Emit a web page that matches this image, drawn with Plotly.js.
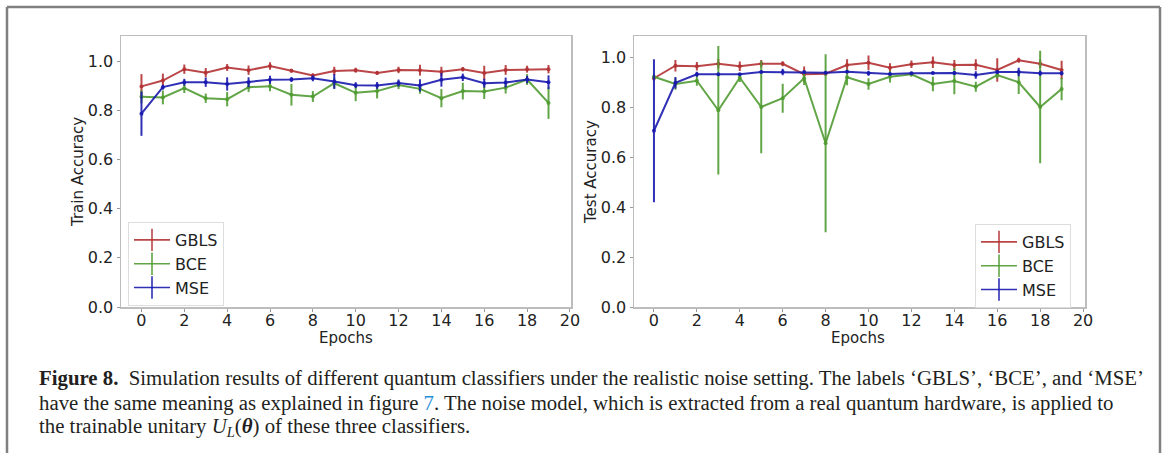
<!DOCTYPE html>
<html>
<head>
<meta charset="utf-8">
<script src="https://cdn.plot.ly/plotly-3.0.1.min.js"></script>
<style>
html,body{margin:0;padding:0;background:#fff;}
#chart{width:1165px;height:453px;}
</style>
</head>
<body>
<div id="chart"></div>
<script>
// ---- data ----
const epochs = [0,1,2,3,4,5,6,7,8,9,10,11,12,13,14,15,16,17,18,19];
const seriesNames = ["GBLS","BCE","MSE"];

const trainGBLS    = [0.897,0.921,0.967,0.953,0.974,0.963,0.980,0.961,0.941,0.960,0.963,0.952,0.964,0.963,0.957,0.967,0.952,0.964,0.967,0.967];
const trainGBLSerr = [0.050,0.028,0.019,0.019,0.014,0.019,0.015,0.008,0.009,0.017,0.010,0.008,0.013,0.022,0.020,0.009,0.029,0.020,0.014,0.017];
const trainBCE     = [0.855,0.852,0.890,0.849,0.845,0.894,0.898,0.863,0.856,0.910,0.871,0.878,0.903,0.887,0.849,0.878,0.876,0.892,0.925,0.830];
const trainBCEerr  = [0.027,0.028,0.020,0.019,0.029,0.020,0.021,0.044,0.022,0.022,0.034,0.030,0.017,0.020,0.037,0.034,0.030,0.024,0.022,0.065];
const trainMSE     = [0.786,0.894,0.914,0.914,0.907,0.914,0.924,0.925,0.930,0.917,0.902,0.901,0.911,0.901,0.924,0.934,0.910,0.913,0.925,0.914];
const trainMSEerr  = [0.090,0.010,0.014,0.019,0.027,0.020,0.016,0.010,0.012,0.030,0.012,0.014,0.014,0.025,0.028,0.015,0.018,0.020,0.015,0.028];

const testGBLS     = [0.915,0.965,0.963,0.973,0.963,0.973,0.973,0.931,0.933,0.968,0.977,0.957,0.971,0.979,0.968,0.969,0.948,0.987,0.973,0.948];
const testGBLSerr  = [0.010,0.023,0.017,0.019,0.019,0.015,0.010,0.031,0.007,0.023,0.029,0.018,0.015,0.023,0.020,0.022,0.047,0.010,0.017,0.037];
const testBCE      = [0.921,0.892,0.905,0.787,0.917,0.800,0.835,0.915,0.655,0.919,0.892,0.921,0.931,0.892,0.904,0.881,0.928,0.899,0.800,0.872];
const testBCEerr   = [0.010,0.023,0.020,0.257,0.017,0.185,0.058,0.027,0.356,0.032,0.023,0.023,0.010,0.029,0.053,0.020,0.013,0.047,0.225,0.045];
const testMSE      = [0.705,0.897,0.931,0.931,0.931,0.940,0.940,0.940,0.937,0.941,0.935,0.932,0.935,0.936,0.936,0.928,0.940,0.940,0.935,0.935];
const testMSEerr   = [0.286,0.023,0.010,0.005,0.005,0.005,0.013,0.005,0.005,0.005,0.010,0.005,0.005,0.005,0.008,0.015,0.008,0.017,0.010,0.008];

const xTicks = [0,2,4,6,8,10,12,14,16,18,20];
const yTicks = [0.0,0.2,0.4,0.6,0.8,1.0];
const yTickText = ["0.0","0.2","0.4","0.6","0.8","1.0"];
const xTitle = "Epochs";
const yTitleLeft = "Train Accuracy";
const yTitleRight = "Test Accuracy";

// ---- styling ----
const colors = {GBLS:"rgba(178,50,52,0.9)", BCE:"rgba(80,155,50,0.9)", MSE:"rgba(25,25,175,0.9)"};
const W = 1165, H = 453;
const px = v => v / W;
const py = v => 1 - v / H;

function series(name, y, err, xa, ya) {
  return {
    x: epochs, y: y, type: "scatter", mode: "lines+markers", name: name,
    xaxis: xa, yaxis: ya, showlegend: false, hoverinfo: "skip",
    line: {color: colors[name], width: 2},
    marker: {color: colors[name], size: 4},
    error_y: {type: "data", array: err, visible: true, color: colors[name], thickness: 2, width: 0}
  };
}
function legendItem(name, leg) {
  return {
    x: [null], y: [null], type: "scatter", mode: "lines+markers", name: name,
    legend: leg, showlegend: true, xaxis: leg === "legend" ? "x" : "x2", yaxis: leg === "legend" ? "y" : "y2",
    line: {color: colors[name], width: 1.6},
    marker: {symbol: "line-ns-open", size: 18, color: colors[name], line: {color: colors[name], width: 1.6}}
  };
}

const traces = [
  series("GBLS", trainGBLS, trainGBLSerr, "x", "y"),
  series("BCE", trainBCE, trainBCEerr, "x", "y"),
  series("MSE", trainMSE, trainMSEerr, "x", "y"),
  series("GBLS", testGBLS, testGBLSerr, "x2", "y2"),
  series("BCE", testBCE, testBCEerr, "x2", "y2"),
  series("MSE", testMSE, testMSEerr, "x2", "y2")
];
seriesNames.forEach(n => traces.push(legendItem(n, "legend")));
seriesNames.forEach(n => traces.push(legendItem(n, "legend2")));

const tickFont = {family: "DejaVu Sans, sans-serif", size: 16, color: "#222"};
const titleFont = {family: "DejaVu Sans, sans-serif", size: 15, color: "#222"};

function xAxis(domain, range, anchor) {
  return {
    domain: domain, range: range, anchor: anchor, tickvals: xTicks, ticktext: xTicks.map(String),
    showgrid: false, zeroline: false, showline: true, mirror: true, linecolor: "#bdbdbd", linewidth: 1.5,
    ticks: "outside", ticklen: 3, tickcolor: "#999", tickfont: tickFont, ticklabelstandoff: -5
  };
}
function yAxis(domain, range, anchor) {
  return {
    domain: domain, range: range, anchor: anchor, tickvals: yTicks, ticktext: yTickText,
    showgrid: false, zeroline: false, showline: true, mirror: true, linecolor: "#bdbdbd", linewidth: 1.5,
    ticks: "outside", ticklen: 3, tickcolor: "#999", tickfont: tickFont
  };
}

const legendCommon = {
  bgcolor: "#fff", bordercolor: "#dddddd", borderwidth: 1,
  font: {family: "DejaVu Sans, sans-serif", size: 16, color: "#222"},
  xanchor: "left", yanchor: "top", itemwidth: 36, tracegroupgap: 0
};

const capFont = {family: "Liberation Serif, serif", size: 20.8, color: "#231f20"};
const capLines = [
  "<b>Figure 8.</b>  Simulation results of different quantum classifiers under the realistic noise setting. The labels ‘GBLS’, ‘BCE’, and ‘MSE’",
  "have the same meaning as explained in figure <span style=\"color:#1f8fd6\">7</span>. The noise model, which is extracted from a real quantum hardware, is applied to",
  "the trainable unitary <i>U</i><sub><i>L</i></sub>(<b><i>θ</i></b>) of these three classifiers."
];
const capY = [378, 403, 427];

const axisTitles = [
  {text: xTitle, x: px(346), y: py(338), textangle: 0},
  {text: xTitle, x: px(858), y: py(338), textangle: 0},
  {text: yTitleLeft, x: px(78), y: py(172), textangle: -90},
  {text: yTitleRight, x: px(591), y: py(172), textangle: -90}
].map(a => Object.assign({xref: "paper", yref: "paper", xanchor: "center", yanchor: "middle",
  showarrow: false, font: titleFont}, a));

const layout = {
  width: W, height: H, margin: {l: 0, r: 0, t: 0, b: 0},
  paper_bgcolor: "#fff", plot_bgcolor: "#fff", showlegend: true,
  xaxis: xAxis([px(121), px(571)], [-0.955, 20.05], "y"),
  yaxis: yAxis([py(307), py(36)], [0, 1.102], "x"),
  xaxis2: xAxis([px(634), px(1085)], [-0.93, 20.09], "y2"),
  yaxis2: yAxis([py(307), py(36)], [0, 1.084], "x2"),
  legend: Object.assign({x: px(128), y: py(222)}, legendCommon),
  legend2: Object.assign({x: px(975), y: py(224)}, legendCommon),
  shapes: [
    {type: "line", xref: "paper", yref: "paper", x0: px(7), x1: px(7), y0: 0, y1: py(7), line: {color: "#808080", width: 2.5}},
    {type: "line", xref: "paper", yref: "paper", x0: px(7), x1: px(1160), y0: py(7), y1: py(7), line: {color: "#808080", width: 2.5}},
    {type: "line", xref: "paper", yref: "paper", x0: px(1160), x1: px(1160), y0: 0, y1: py(7), line: {color: "#808080", width: 2.5}}
  ],
  annotations: axisTitles.concat(capLines.map((t, i) => ({
    text: t, xref: "paper", yref: "paper", x: px(37), y: py(capY[i]), xanchor: "left", yanchor: "middle",
    showarrow: false, font: capFont, align: "left"
  })))
};

Plotly.newPlot("chart", traces, layout, {staticPlot: true, displayModeBar: false});
</script>
</body>
</html>
